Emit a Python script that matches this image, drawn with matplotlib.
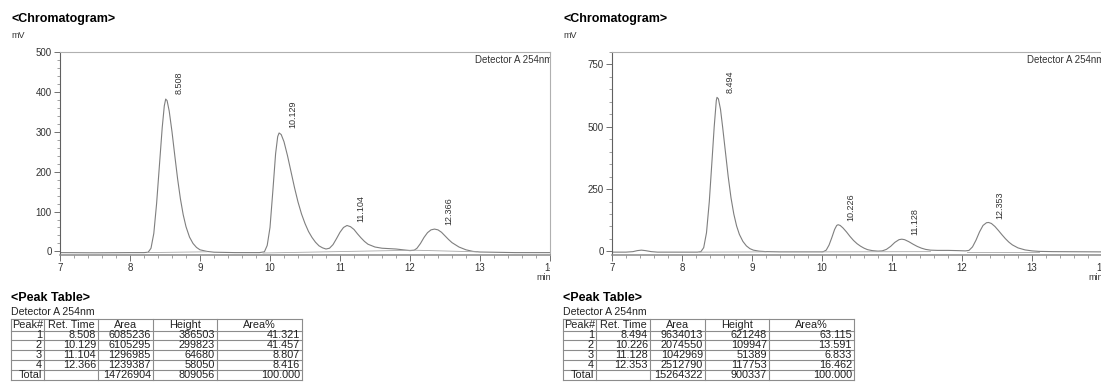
import matplotlib
matplotlib.use('Agg')
import matplotlib.pyplot as plt
from matplotlib.ticker import MultipleLocator
from matplotlib.lines import Line2D
from matplotlib.transforms import Bbox, TransformedBbox

plt.rcParams['font.family'] = ['Liberation Sans', 'DejaVu Sans']

W, H = 1101, 391

# ---- run A (left report) ----
T_A = [7.00, 7.50, 8.00, 8.20, 8.26, 8.30, 8.34, 8.38, 8.42, 8.46, 8.49, 8.51, 8.53,
       8.56, 8.60, 8.64, 8.68, 8.72, 8.76, 8.80, 8.85, 8.90, 8.95, 9.00, 9.10, 9.20,
       9.50, 9.85, 9.92, 9.96, 10.00, 10.04, 10.08, 10.11, 10.13, 10.16, 10.20, 10.25,
       10.30, 10.35, 10.40, 10.45, 10.50, 10.55, 10.60, 10.65, 10.70, 10.75, 10.80,
       10.85, 10.90, 10.95, 11.00, 11.05, 11.10, 11.15, 11.20, 11.25, 11.30, 11.35,
       11.40, 11.50, 11.60, 11.70, 11.80, 11.90, 12.00, 12.06, 12.10, 12.15, 12.20,
       12.25, 12.30, 12.35, 12.40, 12.45, 12.50, 12.55, 12.60, 12.70, 12.80, 12.90,
       13.00, 13.50, 14.00]
MV_A = [-3, -3.5, -3, -3, -2, 8, 45, 120, 215, 310, 365, 382, 378,
        352, 300, 240, 182, 132, 92, 62, 36, 20, 10, 4, 0, -2,
        -3, -3, -1, 15, 60, 150, 245, 288, 297, 293, 275, 240,
        200, 160, 124, 94, 70, 50, 35, 23, 14, 9, 6,
        8, 17, 32, 48, 60, 65, 62, 55, 44, 34, 25,
        18, 11, 8, 7, 6, 4, 2, 3, 8, 20, 35,
        47, 54, 56, 54, 48, 39, 30, 22, 11, 4, 0,
        -1.5, -3, -3]
BASE_A = [((8.25, -3), (9.10, -1)), ((9.90, -4), (12.05, 3)), ((12.07, 3), (12.95, -1))]
RT_A = [8.508, 10.129, 11.104, 12.366]
AREA_A = [6085236, 6105295, 1296985, 1239387]
HEIGHT_A = [386503, 299823, 64680, 58050]
PCT_A = [41.321, 41.457, 8.807, 8.416]
TOTAL_A = [14726904, 809056, 100.000]

# ---- run B (right report) ----
T_B = [7.00, 7.20, 7.30, 7.36, 7.42, 7.48, 7.56, 7.65, 8.00, 8.22, 8.27, 8.31, 8.35,
       8.39, 8.43, 8.46, 8.49, 8.50, 8.52, 8.55, 8.58, 8.62, 8.66, 8.70, 8.74, 8.78,
       8.82, 8.87, 8.92, 8.97, 9.02, 9.10, 9.20, 9.40, 10.00, 10.02, 10.06, 10.10,
       10.14, 10.18, 10.21, 10.23, 10.26, 10.30, 10.35, 10.40, 10.45, 10.50, 10.55,
       10.60, 10.65, 10.72, 10.80, 10.86, 10.92, 10.98, 11.04, 11.10, 11.14, 11.18,
       11.24, 11.30, 11.36, 11.42, 11.48, 11.55, 11.65, 11.80, 11.95, 12.05, 12.10,
       12.15, 12.20, 12.25, 12.30, 12.35, 12.38, 12.42, 12.47, 12.52, 12.57, 12.62,
       12.67, 12.72, 12.80, 12.90, 13.00, 13.10, 13.30, 14.00]
MV_B = [-3, -3, -1, 3, 5, 3, -1, -3, -3, -3, -1, 15, 75,
        200, 370, 500, 605, 618, 612, 570, 500, 400, 300, 215, 150, 102,
        68, 40, 22, 11, 5, 1, -1, -2, -2, -1, 5, 25,
        55, 88, 104, 107, 104, 94, 78, 60, 44, 31, 21,
        13, 7, 3, 1, 2, 8, 20, 36, 47, 49, 47,
        39, 29, 20, 13, 8, 5, 4, 4, 3, 2, 4,
        18, 45, 78, 104, 115, 116, 112, 100, 84, 67, 51,
        37, 26, 14, 6, 2, 0, -1, -2]
BASE_B = [((8.25, -3), (9.20, -2)), ((10.00, -2), (11.55, -1)), ((12.07, -1), (13.10, -1))]
RT_B = [8.494, 10.226, 11.128, 12.353]
AREA_B = [9634013, 2074550, 1042969, 2512790]
HEIGHT_B = [621248, 109947, 51389, 117753]
PCT_B = [63.115, 13.591, 6.833, 16.462]
TOTAL_B = [15264322, 900337, 100.000]

HEADERS = ['Peak#', 'Ret. Time', 'Area', 'Height', 'Area%']

fig = plt.figure(figsize=(W / 100, H / 100), dpi=100)


def fxy(x, y):
    return x / W, 1 - y / H


def hline(x0, x1, y, **kw):
    fig.add_artist(Line2D([x0 / W, x1 / W], [1 - y / H, 1 - y / H], **kw))


def vline(x, y0, y1, **kw):
    fig.add_artist(Line2D([x / W, x / W], [1 - y0 / H, 1 - y1 / H], **kw))


def draw_panel(dx, t, mv, base, rts, heights, areas, pcts, totals, ylim, ymaj, ymin):
    # each report is a screenshot cut at its right edge
    clip = TransformedBbox(Bbox([[dx / W, 0], [(550 + dx) / W, 1]]), fig.transFigure)

    fig.text(*fxy(11 + dx, 19), '<Chromatogram>', fontsize=9, fontweight='bold',
             va='center', ha='left')
    fig.text(*fxy(11 + dx, 35), 'mV', fontsize=6.5, va='center', ha='left', color='#333333')

    ax = fig.add_axes([(60 + dx) / W, 1 - 255 / H, 490 / W, 203 / H])
    ax.plot(t, mv, color='#7f7f7f', lw=0.8)
    for (t0, y0), (t1, y1) in base:
        ax.plot([t0, t1], [y0, y1], color='#a8a8a8', lw=0.6)
    ax.set_xlim(7, 14)
    ax.set_ylim(*ylim)
    ax.xaxis.set_major_locator(MultipleLocator(1))
    ax.xaxis.set_minor_locator(MultipleLocator(0.2))
    ax.yaxis.set_major_locator(MultipleLocator(ymaj))
    ax.yaxis.set_minor_locator(MultipleLocator(ymin))
    ax.tick_params(which='major', length=4, width=0.7, color='#707070',
                   labelsize=7, labelcolor='#333333', pad=2)
    ax.tick_params(which='minor', length=2.2, width=0.6, color='#909090')
    ax.spines['left'].set_color('#606060')
    ax.spines['bottom'].set_color('#8a8a8a')
    ax.spines['bottom'].set_linewidth(1.1)
    for s in ('top', 'right'):
        ax.spines[s].set_color('#b0b0b0')
        ax.spines[s].set_linewidth(0.8)
    det = ax.text(1.004, 0.985, 'Detector A 254nm', transform=ax.transAxes, ha='right',
                  va='top', fontsize=7, color='#333333')
    det.set_clip_box(clip)
    det.set_clip_on(True)
    for tk in ax.xaxis.get_major_ticks():
        tk.label1.set_clip_box(clip)
        tk.label1.set_clip_on(True)
    mn = fig.text(*fxy(551 + dx, 278), 'min', fontsize=6.5, ha='right', va='center',
                  color='#333333')
    mn.set_clip_box(clip)
    mn.set_clip_on(True)
    for rt, h in zip(rts, heights):
        ax.annotate(f'{rt:.3f}', xy=(rt, h / 1000), xytext=(9.7, 2.5),
                    textcoords='offset points', rotation=90, ha='center',
                    va='bottom', fontsize=6.5, color='#333333')

    # peak table
    fig.text(*fxy(11 + dx, 298), '<Peak Table>', fontsize=9, fontweight='bold',
             va='center', ha='left')
    fig.text(*fxy(11 + dx, 312), 'Detector A 254nm', fontsize=7.6, va='center',
             ha='left', color='#222222')
    cols = [11, 44, 98, 153, 217, 302]
    rows = [318.5, 330.5, 340.3, 350.1, 359.9, 369.7, 379.5]
    cols = [c + dx for c in cols]
    for y in rows:
        hline(cols[0], cols[-1], y, color='#8c8c8c', lw=0.8)
    for x in cols:
        vline(x, rows[0], rows[-1], color='#8c8c8c', lw=0.8)
    ymid = [(rows[i] + rows[i + 1]) / 2 for i in range(len(rows) - 1)]
    fs = 7.8
    for j, hd in enumerate(HEADERS):
        fig.text(*fxy((cols[j] + cols[j + 1]) / 2, ymid[0]), hd, fontsize=fs,
                 ha='center', va='center', color='#222222')
    for i in range(len(rts)):
        cells = [str(i + 1), f'{rts[i]:.3f}', str(areas[i]), str(heights[i]),
                 f'{pcts[i]:.3f}']
        for j, c in enumerate(cells):
            fig.text(*fxy(cols[j + 1] - 2, ymid[i + 1]), c, fontsize=fs,
                     ha='right', va='center', color='#222222')
    total_cells = ['Total', '', str(totals[0]), str(totals[1]), f'{totals[2]:.3f}']
    for j, c in enumerate(total_cells):
        fig.text(*fxy(cols[j + 1] - 2, ymid[-1]), c, fontsize=fs,
                 ha='right', va='center', color='#222222')
    return ax


draw_panel(0, T_A, MV_A, BASE_A, RT_A, HEIGHT_A, AREA_A, PCT_A, TOTAL_A,
           (-9, 500), 100, 20)
draw_panel(552, T_B, MV_B, BASE_B, RT_B, HEIGHT_B, AREA_B, PCT_B, TOTAL_B,
           (-14.5, 800), 250, 50)

fig.savefig('out.png', dpi=100)
